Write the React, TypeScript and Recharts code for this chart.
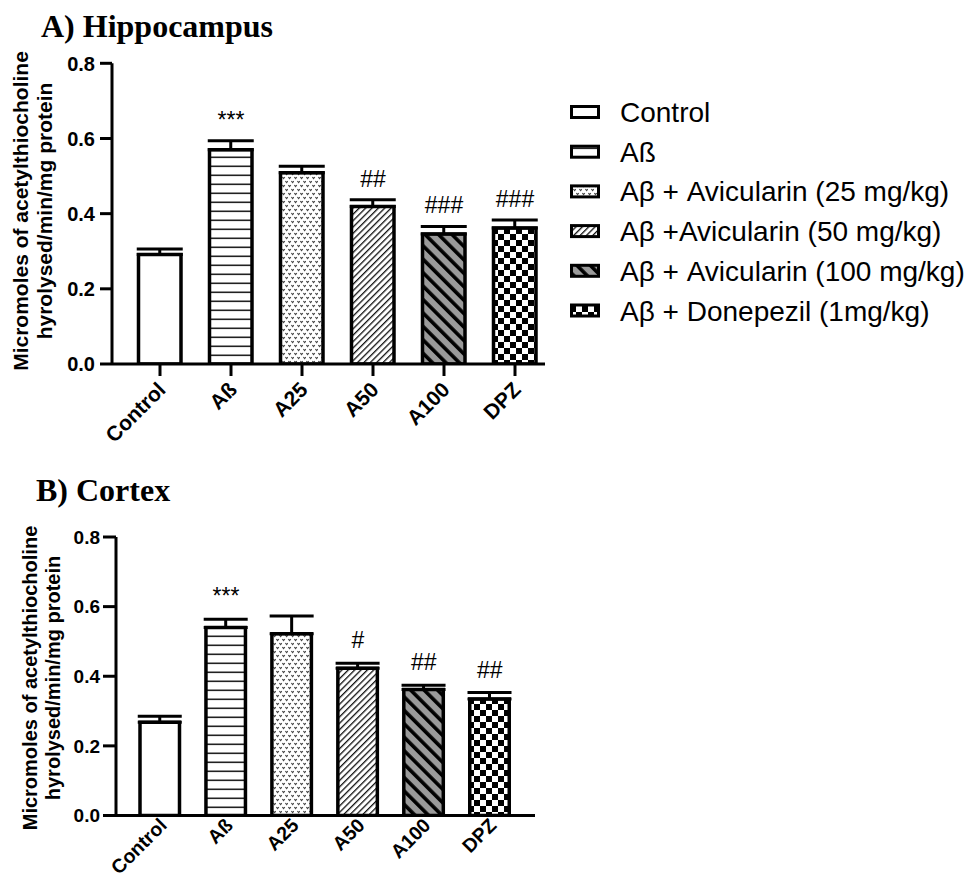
import React from 'react';
import { ComposedChart, Bar, Cell, ErrorBar, Scatter, XAxis, YAxis } from 'recharts';

// groups on the x axis
const groups = ['Control', 'Aß', 'A25', 'A50', 'A100', 'DPZ'];

// A) hippocampus
const hippoMean = [0.291, 0.57, 0.509, 0.419, 0.346, 0.362];
const hippoSem = [0.015, 0.024, 0.017, 0.018, 0.02, 0.021];
const hippoSig = ['', '***', '', '##', '###', '###'];

// B) cortex
const cortexMean = [0.268, 0.54, 0.522, 0.423, 0.362, 0.335];
const cortexSem = [0.017, 0.024, 0.051, 0.014, 0.012, 0.018];
const cortexSig = ['', '***', '', '#', '##', '##'];

const yTicks = [0, 0.2, 0.4, 0.6, 0.8];

const legendLabels = [
  'Control',
  'Aß',
  'Aβ + Avicularin (25 mg/kg)',
  'Aβ +Avicularin (50 mg/kg)',
  'Aβ + Avicularin (100 mg/kg)',
  'Aβ + Donepezil (1mg/kg)',
];

const yLabelLines = ['Micromoles of acetylthiocholine', 'hyrolysed/min/mg protein'];

// one fill per group (patterns are defined in <Patterns />)
const fills = ['#ffffff', 'url(#hLines)', 'url(#dots)', 'url(#fwdHatch)', 'url(#backStripe)', 'url(#checker)'];

const sans = '"Liberation Sans", Arial, sans-serif';
const serif = '"Liberation Serif", "Times New Roman", serif';

function buildRows(mean: number[], sem: number[], sig: string[]) {
  return groups.map((g, i) => ({
    name: g,
    mean: mean[i],
    err: [0, sem[i]],
    top: mean[i] + sem[i],
    sig: sig[i],
  }));
}

const hippoData = buildRows(hippoMean, hippoSem, hippoSig);
const cortexData = buildRows(cortexMean, cortexSem, cortexSig);

function Patterns() {
  return (
    <defs>
      <pattern id="hLines" patternUnits="userSpaceOnUse" width="10" height="9">
        <rect width="10" height="9" fill="#fff" />
        <rect y="3.5" width="10" height="1.6" fill="#222" />
      </pattern>
      <pattern id="dots" patternUnits="userSpaceOnUse" width="6" height="8">
        <rect width="6" height="8" fill="#fff" />
        <path d="M0.4,1 l1.2,1.6 l1.2,-1.6" stroke="#444" strokeWidth="1.1" fill="none" />
        <path d="M3.4,5 l1.2,1.6 l1.2,-1.6" stroke="#444" strokeWidth="1.1" fill="none" />
      </pattern>
      <pattern id="fwdHatch" patternUnits="userSpaceOnUse" width="4.5" height="4.5" patternTransform="rotate(45)">
        <rect width="4.5" height="4.5" fill="#fff" />
        <rect width="1.3" height="4.5" fill="#111" />
      </pattern>
      <pattern id="backStripe" patternUnits="userSpaceOnUse" width="9.5" height="9.5" patternTransform="rotate(-45)">
        <rect width="9.5" height="9.5" fill="#9a9a9a" />
        <rect width="3.6" height="9.5" fill="#000" />
      </pattern>
      <pattern id="checker" patternUnits="userSpaceOnUse" width="12" height="12">
        <rect width="12" height="12" fill="#fff" />
        <rect width="6" height="6" fill="#000" />
        <rect x="6" y="6" width="6" height="6" fill="#000" />
      </pattern>
    </defs>
  );
}

function XTick(props: any) {
  const { x, y, payload, offX, offY, size } = props;
  const tx = x + offX;
  const ty = y + offY;
  return (
    <text
      x={tx}
      y={ty}
      transform={`rotate(-45 ${tx} ${ty})`}
      textAnchor="end"
      fontFamily={sans}
      fontWeight="bold"
      fontSize={size}
      fill="#000"
    >
      {payload.value}
    </text>
  );
}

function YTick(props: any) {
  const { x, y, payload, size } = props;
  return (
    <text
      x={x}
      y={y}
      dy="0.36em"
      textAnchor="end"
      fontFamily={sans}
      fontWeight="bold"
      fontSize={size}
      fill="#000"
    >
      {Number(payload.value).toFixed(1)}
    </text>
  );
}

interface PanelProps {
  data: ReturnType<typeof buildRows>;
  width: number;
  height: number;
  marginTop: number;
  marginRight: number;
  yWidth: number;
  xHeight: number;
  yTickSize: number;
  yTickMargin: number;
  padLeft: number;
  padRight: number;
  barSize: number;
  capWidth: number;
  xTickLine: boolean;
  xTickSize: number;
  xOffX: number;
  xOffY: number;
  sigGap: number;
  yFont: number;
  xFont: number;
}

function Panel(p: PanelProps) {
  return (
    <ComposedChart
      width={p.width}
      height={p.height}
      data={p.data}
      margin={{ top: p.marginTop, right: p.marginRight, bottom: 0, left: 0 }}
    >
      <XAxis
        dataKey="name"
        height={p.xHeight}
        padding={{ left: p.padLeft, right: p.padRight }}
        axisLine={{ stroke: '#000', strokeWidth: 3 }}
        tickLine={p.xTickLine ? { stroke: '#000', strokeWidth: 3 } : false}
        tickSize={p.xTickSize}
        tickMargin={2}
        interval={0}
        tick={(t: any) => <XTick {...t} offX={p.xOffX} offY={p.xOffY} size={p.xFont} />}
      />
      <YAxis
        width={p.yWidth}
        domain={[0, 0.8]}
        ticks={yTicks}
        allowDataOverflow
        axisLine={{ stroke: '#000', strokeWidth: 3 }}
        tickLine={{ stroke: '#000', strokeWidth: 3 }}
        tickSize={p.yTickSize}
        tickMargin={p.yTickMargin}
        tick={(t: any) => <YTick {...t} size={p.yFont} />}
      />
      <Bar
        dataKey="mean"
        barSize={p.barSize}
        stroke="#000"
        strokeWidth={3.5}
        isAnimationActive={false}
      >
        {p.data.map((d, i) => (
          <Cell key={d.name} fill={fills[i]} />
        ))}
        <ErrorBar dataKey="err" width={p.capWidth} stroke="#000" strokeWidth={3} direction="y" />
      </Bar>
      <Scatter
        dataKey="top"
        isAnimationActive={false}
        shape={(s: any) =>
          s.payload.sig ? (
            <text
              x={s.cx}
              y={s.cy - p.sigGap}
              textAnchor="middle"
              fontFamily={sans}
              fontSize={23}
              fill="#000"
            >
              {s.payload.sig}
            </text>
          ) : (
            <g />
          )
        }
      />
    </ComposedChart>
  );
}

function Overlay() {
  const legendX = 571.5;
  const legendTop = 122;
  const legendStep = 39.7;
  return (
    <svg
      width={967}
      height={879}
      style={{ position: 'absolute', left: 0, top: 0, pointerEvents: 'none' }}
    >
      <Patterns />
      <text x={41} y={37} fontFamily={serif} fontWeight="bold" fontSize={32}>
        A) Hippocampus
      </text>
      <text x={36} y={501} fontFamily={serif} fontWeight="bold" fontSize={32}>
        B) Cortex
      </text>

      {yLabelLines.map((line, i) => (
        <text
          key={'a' + i}
          transform={`translate(${28 + i * 24} 211) rotate(-90)`}
          textAnchor="middle"
          fontFamily={sans}
          fontWeight="bold"
          fontSize={21}
        >
          {line}
        </text>
      ))}
      {yLabelLines.map((line, i) => (
        <text
          key={'b' + i}
          transform={`translate(${37 + i * 23} 678) rotate(-90)`}
          textAnchor="middle"
          fontFamily={sans}
          fontWeight="bold"
          fontSize={20}
        >
          {line}
        </text>
      ))}

      {legendLabels.map((label, i) => {
        const base = legendTop + i * legendStep;
        return (
          <g key={label}>
            <rect
              x={legendX}
              y={base - 15.5}
              width={27}
              height={11}
              fill={fills[i]}
              stroke="#000"
              strokeWidth={3}
            />
            <text x={620} y={base} fontFamily={sans} fontSize={28} fill="#000">
              {label}
            </text>
          </g>
        );
      })}
    </svg>
  );
}

export default function App() {
  return (
    <div
      style={{
        position: 'absolute',
        left: 0,
        top: 0,
        width: 967,
        height: 879,
        background: '#fff',
        overflow: 'hidden',
      }}
    >
      <Overlay />
      <div style={{ position: 'absolute', left: 0, top: 0 }}>
        <Panel
          data={hippoData}
          width={560}
          height={465}
          marginTop={63.3}
          marginRight={15}
          yWidth={112}
          xHeight={101}
          yTickSize={12}
          yTickMargin={5}
          padLeft={12.5}
          padRight={-5.5}
          barSize={42.5}
          capWidth={23}
          xTickLine
          xTickSize={12}
          xOffX={7}
          xOffY={13}
          sigGap={13}
          yFont={20}
          xFont={21}
        />
      </div>
      <div style={{ position: 'absolute', left: 0, top: 470 }}>
        <Panel
          data={cortexData}
          width={560}
          height={409}
          marginTop={67}
          marginRight={25}
          yWidth={116}
          xHeight={63.5}
          yTickSize={13}
          yTickMargin={3}
          padLeft={11}
          padRight={12.3}
          barSize={39.5}
          capWidth={22}
          xTickLine={false}
          xTickSize={0}
          xOffX={8}
          xOffY={9}
          sigGap={15}
          yFont={19}
          xFont={19.5}
        />
      </div>
    </div>
  );
}
